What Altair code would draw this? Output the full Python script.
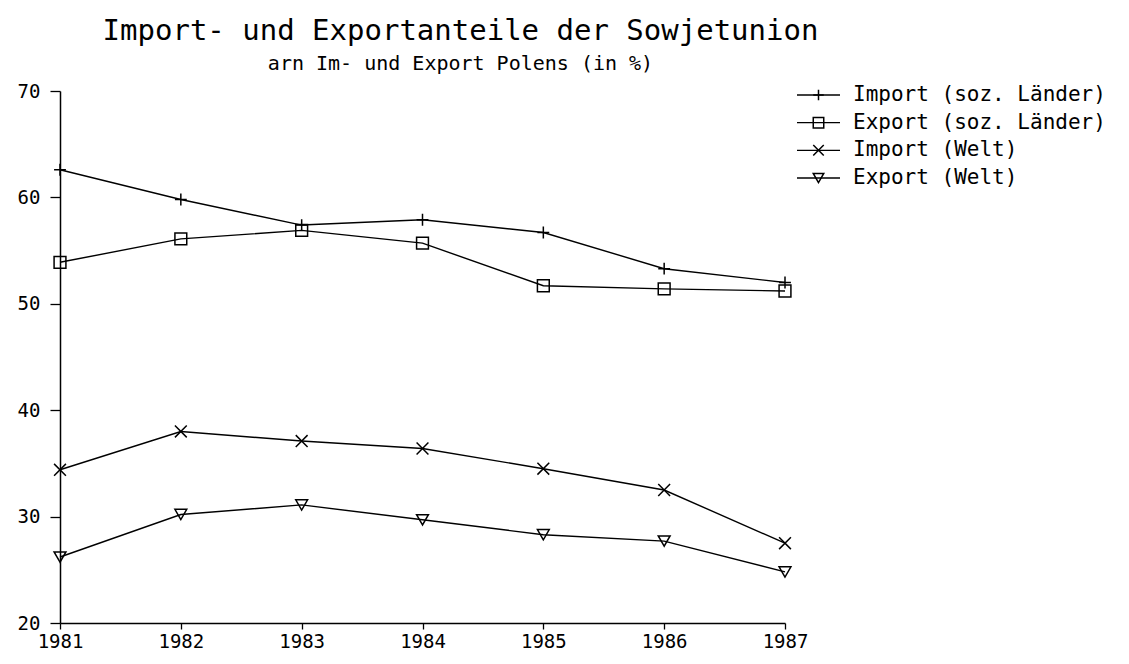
import altair as alt
import pandas as pd

years = [1981, 1982, 1983, 1984, 1985, 1986, 1987]
series = ["Import (soz. Länder)", "Export (soz. Länder)", "Import (Welt)", "Export (Welt)"]
import_soz = [62.6, 59.8, 57.4, 57.9, 56.7, 53.3, 52.0]
export_soz = [53.9, 56.1, 56.9, 55.7, 51.7, 51.4, 51.2]
import_welt = [34.4, 38.0, 37.1, 36.4, 34.5, 32.5, 27.5]
export_welt = [26.2, 30.2, 31.1, 29.7, 28.3, 27.7, 24.8]
y_ticks = [20, 30, 40, 50, 60, 70]

values = [import_soz, export_soz, import_welt, export_welt]
rows = []
for s, vals in zip(series, values):
    for yr, v in zip(years, vals):
        rows.append({"Jahr": yr, "Anteil": v, "Reihe": s})
df = pd.DataFrame(rows)
leg_df = pd.DataFrame({"Reihe": series, "Rang": list(range(len(series)))})

FONT = "DejaVu Sans Mono"
NOVIEW = alt.ViewBackground(stroke="transparent", strokeWidth=0)
shape_scale = alt.Scale(
    domain=series,
    range=["M-1,0H1M0,-1V1", "square", "M-1,-1L1,1M-1,1L1,-1", "triangle-down"],
)

x_enc = alt.X(
    "Jahr:Q",
    scale=alt.Scale(domain=[1981, 1987], nice=False, zero=False),
    axis=alt.Axis(values=years, format="d", title=None, grid=False,
                  labelFont=FONT, labelFontSize=19, labelColor="black",
                  domainColor="black", domainWidth=1.5, tickColor="black",
                  tickSize=6, tickWidth=1.3, labelPadding=3, labelFlush=False),
)
y_enc = alt.Y(
    "Anteil:Q",
    scale=alt.Scale(domain=[20, 70], nice=False, zero=False),
    axis=alt.Axis(values=y_ticks, title=None, grid=False,
                  labelFont=FONT, labelFontSize=19, labelColor="black",
                  domainColor="black", domainWidth=1.5, tickColor="black",
                  tickSize=10, tickWidth=1.3, labelPadding=10),
)

lines = alt.Chart(df).mark_line(color="black", strokeWidth=1.4).encode(
    x=x_enc, y=y_enc, detail="Reihe:N"
)
points = alt.Chart(df).mark_point(filled=False, color="black", strokeWidth=1.5, size=140, opacity=1).encode(
    x=x_enc, y=y_enc, shape=alt.Shape("Reihe:N", scale=shape_scale, legend=None)
)
main = alt.layer(lines, points)

lx = alt.Scale(domain=[0, 1], range=[737, 780])
ly = alt.Scale(domain=[0, 3], range=[4, 87])

leg_rule = alt.Chart(leg_df).mark_rule(color="black", strokeWidth=1.4).encode(
    x=alt.X("x0:Q", scale=lx, axis=None),
    x2=alt.X2("x1:Q"),
    y=alt.Y("Rang:Q", scale=ly, axis=None),
).transform_calculate(x0="0", x1="1")
leg_pts = alt.Chart(leg_df).mark_point(filled=False, color="black", strokeWidth=1.5, size=110, opacity=1).encode(
    x=alt.X("xm:Q", scale=lx, axis=None),
    y=alt.Y("Rang:Q", scale=ly, axis=None),
    shape=alt.Shape("Reihe:N", scale=shape_scale, legend=None),
).transform_calculate(xm="0.5")
leg_txt = alt.Chart(leg_df).mark_text(align="left", baseline="middle", dx=13, font=FONT,
                                      fontSize=21, color="black").encode(
    x=alt.X("xt:Q", scale=lx, axis=None),
    y=alt.Y("Rang:Q", scale=ly, axis=None),
    text="Reihe:N",
).transform_calculate(xt="1")
leg = alt.layer(leg_rule, leg_pts, leg_txt)

chart = alt.layer(main, leg).resolve_scale(x="independent", y="independent").properties(
    width=725,
    height=532,
    view=NOVIEW,
    autosize=alt.AutoSizeParams(type="none"),
    padding={"left": 52, "top": 83, "right": 336, "bottom": 33},
    title=alt.TitleParams(
        text="Import- und Exportanteile der Sowjetunion",
        subtitle="arn Im- und Export Polens (in %)",
        font=FONT, fontSize=29, fontWeight="normal", color="black",
        subtitleFont=FONT, subtitleFontSize=20, subtitleColor="black",
        subtitlePadding=8, anchor="middle", frame="group", dx=38, offset=8,
    ),
).configure_view(strokeWidth=0, stroke="transparent").configure_axis(
    gridOpacity=0, domainColor="black"
).configure(background="white")

chart.save("out.html", embed_options={"renderer": "svg", "actions": False})
